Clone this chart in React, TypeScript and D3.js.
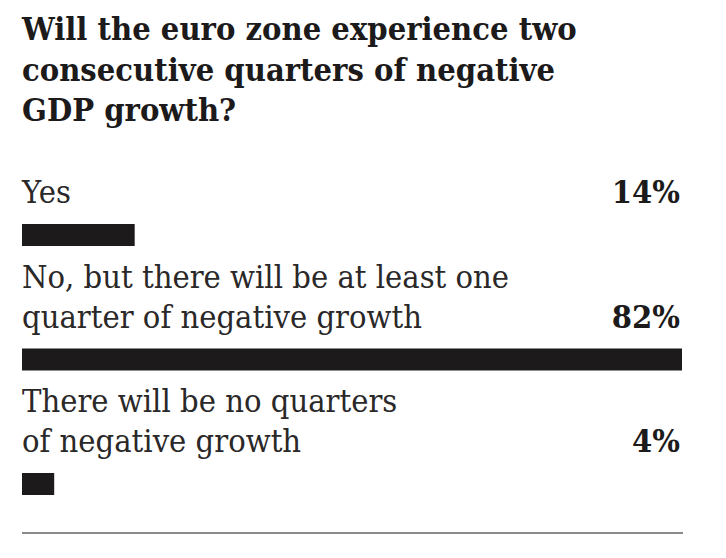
import * as d3 from "d3";
import { useEffect, useRef } from "react";

const titleLines = [
  "Will the euro zone experience two",
  "consecutive quarters of negative",
  "GDP growth?",
];

const answers = [
  ["Yes"],
  ["No, but there will be at least one", "quarter of negative growth"],
  ["There will be no quarters", "of negative growth"],
];

const shares = [14, 82, 4];

const App: React.FC = () => {
  const ref = useRef<HTMLDivElement | null>(null);

  useEffect(() => {
    const width = 726;
    const height = 558;
    const left = 22;
    const right = 682;
    const barH = 22;
    const lineGap = 40;
    const squeeze = 0.94;
    const ink = "#1c1a1a";

    if (!ref.current) return;
    d3.select(ref.current).selectAll("*").remove();

    const svg = d3
      .select(ref.current)
      .append("svg")
      .attr("width", width)
      .attr("height", height)
      .style("position", "absolute")
      .style("left", "0px")
      .style("top", "0px")
      .style("background", "#fff");

    const keys = answers.map((_, i) => String(i));

    const x = d3
      .scaleLinear()
      .domain([0, d3.max(shares) ?? 0])
      .range([left, right]);

    // top edge of each bar
    const y = d3.scalePoint<string>().domain(keys).range([224, 473]);

    // title
    svg
      .append("g")
      .selectAll("text")
      .data(titleLines)
      .join("text")
      .attr("transform", (_, i) => `translate(${left},${40 + i * 40.5}) scale(${squeeze},1)`)
      .attr("font-family", "DejaVu Serif")
      .attr("font-weight", "bold")
      .attr("font-size", 31)
      .attr("fill", ink)
      .text((d) => d);

    const rows = svg
      .append("g")
      .selectAll("g")
      .data(keys)
      .join("g");

    // answer labels, last line sits just above the bar
    rows.each(function (k, i) {
      const lines = answers[i];
      const base = (y(k) ?? 0) - 21;
      d3.select(this)
        .selectAll("text.label")
        .data(lines)
        .join("text")
        .attr("class", "label")
        .attr(
          "transform",
          (_, j) => `translate(${left},${base - (lines.length - 1 - j) * lineGap}) scale(${squeeze},1)`
        )
        .attr("font-family", "DejaVu Serif")
        .attr("font-size", 31)
        .attr("fill", "#2a2828")
        .text((d) => d);

      d3.select(this)
        .append("text")
        .attr("transform", `translate(680,${base}) scale(${squeeze},1)`)
        .attr("text-anchor", "end")
        .attr("font-family", "DejaVu Serif")
        .attr("font-weight", "bold")
        .attr("font-size", 31)
        .attr("fill", ink)
        .text(`${shares[i]}%`);
    });

    rows
      .append("rect")
      .attr("x", x(0))
      .attr("y", (k) => y(k) ?? 0)
      .attr("width", (_, i) => x(shares[i]) - x(0))
      .attr("height", barH)
      .attr("fill", ink);

    svg
      .append("line")
      .attr("x1", left)
      .attr("x2", right + 1)
      .attr("y1", 533)
      .attr("y2", 533)
      .attr("stroke", "#8a8a8a")
      .attr("stroke-width", 2);
  }, []);

  return <div ref={ref} />;
};

export default App;
